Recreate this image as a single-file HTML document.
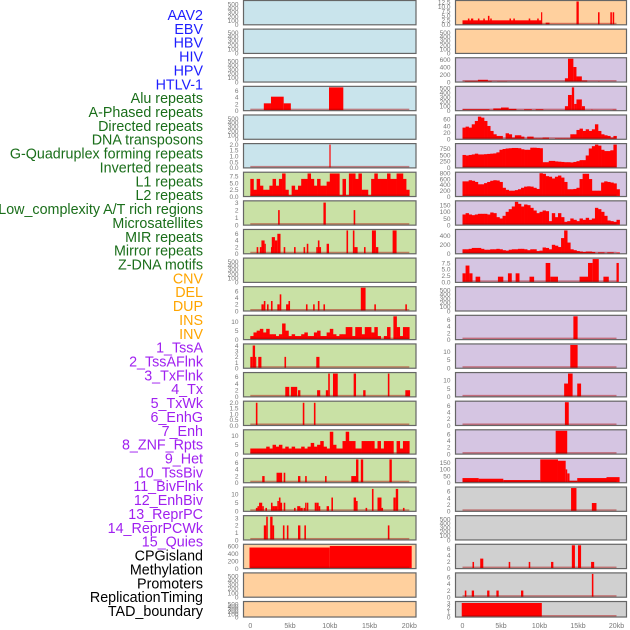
<!DOCTYPE html>
<html><head><meta charset="utf-8"><style>
html,body{margin:0;padding:0;background:#fff;}
svg{display:block;font-family:"Liberation Sans",sans-serif;}
</style></head><body>
<svg id="chart" width="630" height="630" viewBox="0 0 630 630" xmlns="http://www.w3.org/2000/svg"></svg>
<script>
// ---------- data ----------
const labels = ["AAV2","EBV","HBV","HIV","HPV","HTLV-1","Alu repeats","A-Phased repeats","Directed repeats","DNA transposons","G-Quadruplex forming repeats","Inverted repeats","L1 repeats","L2 repeats","Low_complexity A/T rich regions","Microsatellites","MIR repeats","Mirror repeats","Z-DNA motifs","CNV","DEL","DUP","INS","INV","1_TssA","2_TssAFlnk","3_TxFlnk","4_Tx","5_TxWk","6_EnhG","7_Enh","8_ZNF_Rpts","9_Het","10_TssBiv","11_BivFlnk","12_EnhBiv","13_ReprPC","14_ReprPCWk","15_Quies","CPGisland","Methylation","Promoters","ReplicationTiming","TAD_boundary"];
const labelGroups = [6,13,5,15,5];
const groupColors = ["#1e1eff","#1a6e1a","#ffa500","#a020f0","#000000"];
const xTicks = [0,5,10,15,20];
const xTickLabels = ["0","5kb","10kb","15kb","20kb"];
const emptyTicks = [0,100,200,300,400,500];

const leftBg = ["#c9e4ec","#c9e4ec","#c9e4ec","#c9e4ec","#c9e4ec","#c9e4ec","#c9e1a5","#c9e1a5","#c9e1a5","#c9e1a5","#c9e1a5","#c9e1a5","#c9e1a5","#c9e1a5","#c9e1a5","#c9e1a5","#c9e1a5","#c9e1a5","#c9e1a5","#ffd09e","#ffd09e","#ffd09e"];
const rightBg = ["#ffd09e","#ffd09e","#d5c5e2","#d5c5e2","#d5c5e2","#d5c5e2","#d5c5e2","#d5c5e2","#d5c5e2","#d5c5e2","#d5c5e2","#d5c5e2","#d5c5e2","#d5c5e2","#d5c5e2","#d5c5e2","#d5c5e2","#d0d0d0","#d0d0d0","#d0d0d0","#d0d0d0","#d0d0d0"];

const leftTicks = [null,null,null,[0,2,4,6],null,[0,0.5,1,1.5,2],[0,2.5,5,7.5],[0,1,2,3],[0,2,4,6],null,[0,2,4,6],[0,5,10],[0,1,2,3,4],[0,2,4,6],[0,0.5,1,1.5,2],[0,5,10],[0,2,4,6],[0,5,10],[0,1,2,3],[0,200,400,600],null,null];
const leftMax = [560,560,560,7,560,2,8.6,3.1,7,560,7,13,4.1,7,2.05,12.5,7,13.5,3.2,620,560,560];
const rightTicks = [[0,2.5,5,7.5,10,12.5],null,[0,200,400,600],[0,100,200,300,400,500],[0,20,40,60],[0,250,500,750],[0,200,400,600,800],[0,50,100,150],[0,200,400],[0,2.5,5,7.5],null,[0,2,4,6],[0,5,10],[0,5,10],[0,2,4,6],[0,2,4,6],[0,50,100,150],[0,2,4,6],null,[0,2,4,6],[0,2,4,6],[0,1,2,3]];
const rightMax = [13,560,620,520,70,900,800,175,520,9,560,7,14,14,7,7,175,7,560,7,7,3.1];

const L3 = [[1.7,2.6,2.2],[2.6,4.2,4.2],[4.2,5.1,2.2],[9.9,11.7,7]];
const L5 = [[9.95,10.1,2]];
const L6 = [6.5,2.5,6.5,4,2.5,2.5,4,6.5,4,6.5,8.5,2.5,0.5,4,2.5,4,6.5,6.5,8.5,6.5,4,6.5,4,4,5.5,8.5,8.5,8.5,0.5,6.5,0.5,8.5,8.5,6.5,8.5,2.5,2.5,0.5,6.5,8.5,6.5,6.5,6.5,8.5,6.5,6.5,8.5,8.5,6.5,2.5];
const L7 = [[3.5,3.7,2],[9.2,9.5,3],[13,13.2,2]];
const L8 = [[0.8,1.0,2],[1.2,1.4,2],[1.4,1.8,4],[1.8,1.9,3],[2.6,2.7,2],[2.7,3.1,5],[3.1,3.4,4],[3.4,3.8,6],[4.2,4.4,2],[5.5,5.7,2],[6.7,6.9,2],[7.1,7.3,3],[8.3,8.5,2],[8.5,8.7,4],[8.7,8.9,2],[9.6,9.9,3],[12.1,12.3,7],[12.9,13.1,7],[13.1,13.5,2],[14.3,14.5,2],[15.3,15.8,7],[15.8,16.1,2],[17.9,18.4,7]];
const L10 = [[1.4,1.7,2],[1.7,1.9,3],[2.1,2.3,2],[2.6,2.8,3],[3.4,3.7,2],[3.7,3.9,5],[4.5,4.8,2],[4.8,5.0,3],[7.0,7.2,2],[7.9,8.1,2],[8.5,8.7,3],[9.2,9.4,2],[13.9,14.5,7],[15.6,15.8,2],[19.5,19.7,2]];
const L11 = [2,4,5,6,4,6,3,3,2,3,9,5,2,3,2,2,3,4,2,2,4,5,2,2,4,6,3,2,3,3,7,7,2,7,7,3,7,7,4,7,2,0,2,7,0,13,7,2,7,7];
const L12 = [[0,0.3,2],[0.3,0.6,4],[0.6,0.7,2],[1.0,1.4,2],[4.3,4.5,2],[8.3,8.7,2]];
const L13 = [[4.4,4.9,3],[5.1,5.9,3],[6.0,6.3,2],[8.4,8.8,2],[9.5,9.8,2],[9.8,10.0,7],[10.4,11.0,7],[13.0,13.3,7],[14.2,14.5,2],[17.3,17.5,7],[19.5,20.1,2]];
const L14 = [[0.7,0.9,2],[6.6,6.8,2],[8.0,8.2,2]];
const L15 = [3,3,3,3,3,4,3,5,4,5,3,4,3,4,3,3,4,3,4,6,4,5,7,4,3,12,5,3,3,7,12,7,7,3,3,7,7,7,7,3,7,3,7,7,7,0,7,3,7,7];
const L16 = [[1.5,1.8,2],[3.3,4.0,3],[4.2,4.4,3],[6.0,6.3,2],[6.9,7.1,2],[9.4,9.6,2],[12.7,13.3,2],[13.3,13.6,7],[13.9,14.2,7],[17.5,17.8,7]];
const L17 = [[0.7,0.9,2],[0.9,1.1,3],[1.1,1.5,5],[1.5,1.7,3],[1.9,2.1,2],[2.6,2.8,5],[2.8,3.1,3],[3.1,3.4,3],[3.4,3.6,6],[3.6,3.8,8],[3.8,4.0,5],[4.2,4.4,5],[5.5,5.7,2],[5.9,6.3,3],[6.3,6.6,2],[6.7,6.9,2],[6.9,7.0,5],[7.1,7.3,5],[8.1,8.3,5],[8.3,8.6,5],[8.6,8.8,3],[9.6,9.9,3],[10.2,10.4,8],[13.0,13.3,8],[13.3,13.5,6],[14.5,14.7,2],[15.3,15.5,13],[16.0,16.5,8],[16.5,16.7,2],[18.0,18.3,8],[18.3,18.6,13],[19.2,19.4,2]];
const L18 = [[1.7,2.0,2],[2.0,2.2,3.2],[2.5,2.8,3.2],[2.8,3.0,2],[4.1,4.3,2],[4.6,4.8,2],[6.0,6.3,2],[6.8,7.0,2],[17.3,17.5,2]];
const L19 = [[-0.1,10,560],[10,20.3,600]];

const R0 = [[0,10.3,2.5],[0.7,0.9,3.5],[1.1,1.4,3.5],[2.0,2.2,3.5],[2.7,2.9,3.5],[3.3,3.5,5],[3.6,3.8,3.5],[6.1,6.3,3.5],[6.6,6.8,3.5],[8.6,8.8,3.5],[9.7,9.9,3.5],[10.2,10.3,7],[10.8,11.3,1.2],[14.8,15.1,13],[17.6,17.8,7],[19.2,19.4,7],[19.5,19.7,7]];
const R2 = [[0.3,2,30],[2,3.3,60],[3.3,3.8,30],[4.5,5.8,20],[13.3,13.7,100],[13.7,14.4,620],[14.4,14.8,400],[14.8,15.5,150],[15.5,16.2,40],[17.6,17.8,20]];
const R3 = [[0,3.5,30],[4,5,50],[5,6,70],[6,7,40],[8,9,30],[9.5,10.5,30],[13.3,13.7,100],[13.7,14.2,350],[14.2,14.5,520],[14.5,14.8,150],[14.8,15.5,250],[15.5,15.9,100],[16.7,16.9,20],[19.5,20,20]];
const R4 = [35,38,35,45,55,68,65,55,40,25,15,10,10,0,18,15,5,12,12,8,0,8,8,3,3,3,5,5,0,0,3,3,3,3,3,15,15,28,32,25,30,25,30,45,25,15,12,10,5,10];
const R5 = [500,480,500,520,550,520,520,530,540,550,560,600,700,730,750,760,770,770,760,720,700,700,780,780,770,760,220,220,270,270,250,240,230,220,220,210,230,260,300,300,480,750,840,900,860,700,650,650,680,900];
const R6 = [520,520,560,540,500,420,420,460,500,540,560,550,500,300,230,200,200,220,250,300,340,350,340,300,260,800,780,700,680,620,680,720,650,500,250,250,260,300,600,780,780,600,200,200,200,480,520,500,480,450,250];
const R7 = [80,90,80,75,80,85,85,85,80,95,90,60,50,70,100,120,140,175,160,140,155,150,130,110,90,100,110,105,30,90,60,90,60,25,30,50,40,30,50,40,55,40,50,130,120,100,70,35,30,25,40];
const R8 = [100,100,110,130,130,130,110,90,90,100,100,110,100,80,70,90,100,100,110,110,100,80,100,100,60,70,140,130,100,200,180,150,350,520,250,100,80,60,50,40,50,50,40,0,30,30,0,30,30,0,30];
const R9 = [[0,0.4,3.5],[0.4,0.9,6.5],[0.9,1.3,3.5],[1.7,2.3,2.2],[4.6,5.3,2.2],[5.9,6.4,3.5],[6.9,7.4,3.5],[8.7,9.3,2.2],[10.8,11.4,7.5],[11.4,12.4,2.2],[15.2,16.3,2.2],[16.3,16.9,7.5],[16.9,17.7,9],[18.3,19.0,2.2],[20.0,20.3,7.5]];
const R11 = [[14.4,14.95,7]];
const R12 = [[14.0,14.95,14]];
const R13 = [[13.2,13.7,8],[13.7,14.3,14],[14.9,15.4,8]];
const R14 = [[13.3,13.8,7]];
const R15 = [[12.1,13.6,7]];
const R16 = [[0,2.1,35],[2.1,5.3,30],[5.3,10.1,20],[10.1,12.4,175],[12.4,13.4,165],[13.4,13.6,100],[13.6,13.9,70],[13.9,14.9,15],[14.9,18.7,35],[18.7,20.4,42]];
const R17 = [[14.1,14.8,7],[16.8,17.4,2.5]];
const R19 = [[1.3,1.5,2],[2.3,2.7,3],[6.0,6.2,2],[8.6,8.8,2],[11.5,11.8,2],[14.2,14.6,7],[15.0,15.4,7],[16.7,17.1,2]];
const R20 = [[0.3,0.5,2],[1.2,1.5,2],[3.2,3.5,2],[4.4,4.7,2],[7.6,7.9,2],[16.8,17.0,7]];
const R21 = [[-0.1,10.3,3]];

const leftData = [null,null,null,L3,null,L5,L6,L7,L8,null,L10,L11,L12,L13,L14,L15,L16,L17,L18,L19,null,null];
const rightData = [R0,null,R2,R3,R4,R5,R6,R7,R8,R9,null,R11,R12,R13,R14,R15,R16,R17,null,R19,R20,R21];
const BIN = 0.4;

// ---------- drawing ----------
const svg = document.getElementById('chart');
const NS = "http://www.w3.org/2000/svg";
function mk(tag, attrs, parent){ const e=document.createElementNS(NS,tag); for(const k in attrs) e.setAttribute(k,attrs[k]); (parent||svg).appendChild(e); return e; }

let li=0;
labelGroups.forEach((n,g)=>{ for(let k=0;k<n;k++){ const t=mk('text',{x:203,y:15+li*13.86+5,'text-anchor':'end','font-size':'14.3',fill:groupColors[g]}); t.textContent=labels[li];
  
   li++; } });

const cols = [{x0:243.5,x1:416,z0:250.3,z20:409.3,bg:leftBg,ticks:leftTicks,max:leftMax,data:leftData,name:'left'},
              {x0:455.5,x1:626.5,z0:462.5,z20:616.5,bg:rightBg,ticks:rightTicks,max:rightMax,data:rightData,name:'right'}];

cols.forEach(c=>{
  const xs = kb => c.z0 + kb*(c.z20-c.z0)/20;
  for(let i=0;i<22;i++){
    const top = 0.5 + i*28.62, h = (i<21?24.3:15.5), bot = top+h;
    const g = mk('g',{});
    
    
    const bg = mk('rect',{x:c.x0,y:top,width:c.x1-c.x0,height:h,fill:c.bg[i]},g);
    
    
    const ymax = c.max[i];
    const innerTop = top+1, ys = v => bot - Math.min(v/ymax,1)*(bot-innerTop);
    const d = c.data[i];
    if(d){
      if(typeof d[0]==='number'){
        d.forEach((v,k)=>{ if(v<=0) return; const x=xs(k*BIN), w=xs((k+1)*BIN)-x;
          const r=mk('rect',{x:x,y:ys(v),width:w+0.3,height:bot-ys(v),fill:'#ff0000'},g);
          
           });
      } else {
        d.forEach(s=>{ const x=xs(s[0]), w=Math.max(xs(s[1])-x,1.2);
          const r=mk('rect',{x:x,y:ys(s[2]),width:w,height:bot-ys(s[2]),fill:'#ff0000'},g);
          
           });
      }
      const bl=mk('rect',{x:xs(0),y:bot-2,width:xs(20)-xs(0),height:1.6,fill:'rgba(170,0,0,0.45)'},g);
      
      
    }
    const fr=mk('rect',{x:c.x0,y:top,width:c.x1-c.x0,height:h,fill:'none',stroke:'#666','stroke-width':1.2},g);
    
    
    const tk = c.ticks[i] || emptyTicks;
    const tmax = c.ticks[i] ? ymax : 560;
    tk.forEach(v=>{ const y = bot - (v/tmax)*(bot-innerTop);
      const t=mk('text',{x:c.x0-5,y:y+2.3,'text-anchor':'end','font-size':'6.5',fill:'#777'},g);
      t.textContent = (c.ticks[i] && c.ticks[i].some(q=>q%1!==0)) ? v.toFixed(1) : String(v);
      
       });
  }
  xTicks.forEach((v,k)=>{ const t=mk('text',{x:xs(v),y:628,'text-anchor':'middle','font-size':'7',fill:'#777'});
    t.textContent=xTickLabels[k];
    
     });
});
</script>
</body></html>
